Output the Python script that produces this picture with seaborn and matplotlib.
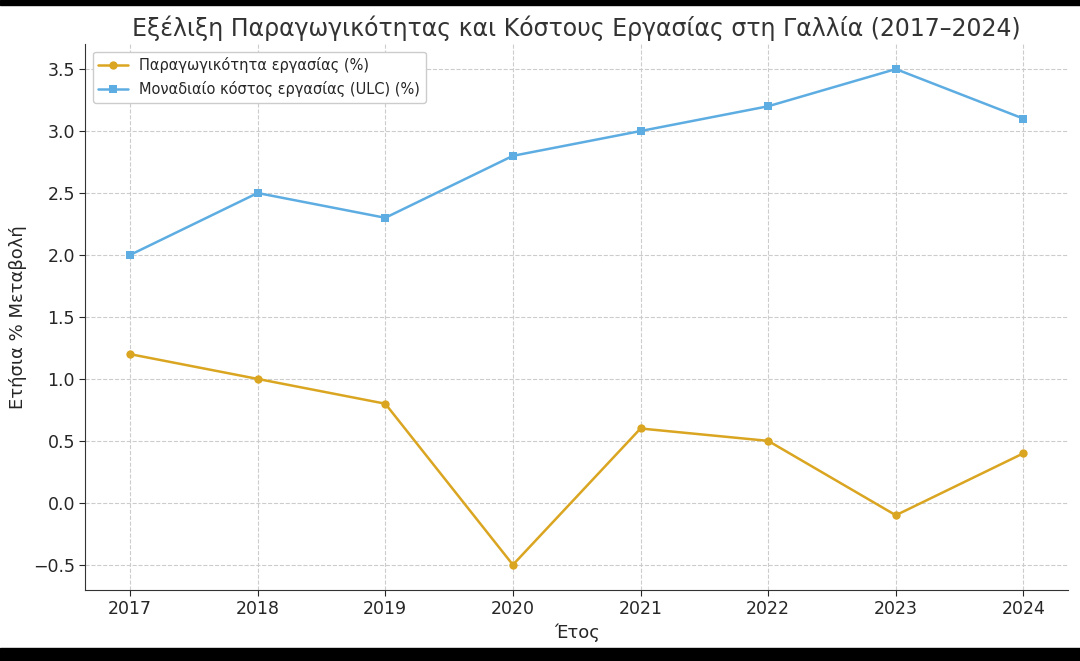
import matplotlib
matplotlib.use("Agg")
import matplotlib.pyplot as plt
import seaborn as sns
import pandas as pd
from matplotlib.patches import Rectangle

years = [2017, 2018, 2019, 2020, 2021, 2022, 2023, 2024]
productivity = [1.2, 1.0, 0.8, -0.5, 0.6, 0.5, -0.1, 0.4]
ulc = [2.0, 2.5, 2.3, 2.8, 3.0, 3.2, 3.5, 3.1]

df = pd.DataFrame({"year": years, "prod": productivity, "ulc": ulc})

sns.set_style("whitegrid", {"grid.linestyle": "--", "grid.color": "#cccccc"})
plt.rcParams["font.family"] = ["DejaVu Sans"]

fig = plt.figure(figsize=(10.8, 6.61), dpi=100)
ax = fig.add_axes([0.079, 0.108, 0.910, 0.825])

sns.lineplot(data=df, x="year", y="prod", marker="o", color="#DAA520", linewidth=1.8,
             markersize=6, markeredgewidth=0, label="Παραγωγικότητα εργασίας (%)", ax=ax)
sns.lineplot(data=df, x="year", y="ulc", marker="s", color="#5DADE2", linewidth=1.8,
             markersize=6, markeredgewidth=0, label="Μοναδιαίο κόστος εργασίας (ULC) (%)", ax=ax)

ax.set_xticks(years)
ax.set_ylim(-0.7, 3.7)
ax.set_xlim(2016.65, 2024.35)
ax.set_title("Εξέλιξη Παραγωγικότητας και Κόστους Εργασίας στη Γαλλία (2017–2024)",
             fontsize=17, color="#333333")
ax.set_xlabel("Έτος", fontsize=13)
ax.set_ylabel("Ετήσια % Μεταβολή", fontsize=13)
ax.tick_params(labelsize=12.5, length=4, left=True, bottom=True)
for s in ["top", "right"]:
    ax.spines[s].set_visible(False)
for s in ["left", "bottom"]:
    ax.spines[s].set_color("#333333")
ax.legend(loc="upper left", fontsize=10.5, framealpha=1)

fig.patches.append(Rectangle((0, 0.993), 1, 0.007, transform=fig.transFigure, color="black"))
fig.patches.append(Rectangle((0, 0), 1, 0.02, transform=fig.transFigure, color="black"))

fig.savefig("out.png", dpi=100)
